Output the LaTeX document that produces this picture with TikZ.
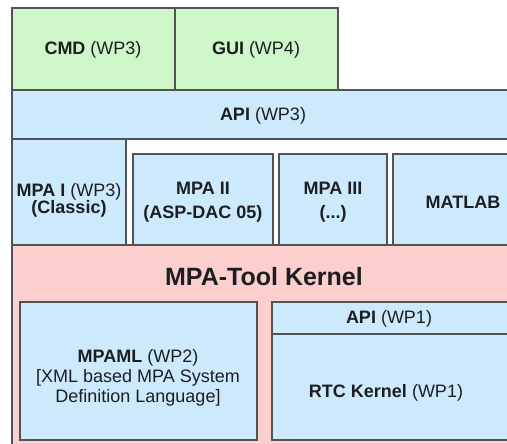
\documentclass[tikz,border=0pt]{standalone}
\usepackage{fontspec}
\setmainfont{Liberation Sans}
\definecolor{frontgreen}{RGB}{206,246,200}
\definecolor{layerblue}{RGB}{204,234,252}
\definecolor{kernelpink}{RGB}{252,206,206}
\definecolor{edgegray}{RGB}{80,84,86}
\definecolor{inktext}{RGB}{28,30,34}
\tikzset{
  box/.style={draw=edgegray, line width=1.2pt},
  greenbox/.style={box, fill=frontgreen},
  bluebox/.style={box, fill=layerblue},
  pinkbox/.style={box, fill=kernelpink},
  lbl/.style={text=inktext, align=center, inner sep=0pt, font=\fontsize{18}{20}\selectfont},
  title/.style={text=inktext, inner sep=0pt, font=\fontsize{25}{28}\selectfont\bfseries},
}
\begin{document}
\begin{tikzpicture}[x=1pt, y=-1pt]
\useasboundingbox (0,0) rectangle (507,444);
\clip (0,0) rectangle (507,444);
\fill[white] (0,0) rectangle (507,444);

% front ends
\draw[greenbox] (12,8) rectangle (175,90);
\draw[greenbox] (175,8) rectangle (338,90);
\node[lbl] (cmd) at (93,50) {\textbf{CMD} (WP3)};
\node[lbl] (gui) at (256,50) {\textbf{GUI} (WP4)};

% upper API layer
\draw[bluebox] (12,90) rectangle (518,139);
\node[lbl] (api3) at (263,116) {\textbf{API} (WP3)};

% engines
\draw[bluebox] (12,139) rectangle (126,245);
\draw[bluebox] (133,154) rectangle (273,245);
\draw[bluebox] (279,154) rectangle (387,245);
\draw[bluebox] (393,154) rectangle (534,245);
\node[lbl, font=\fontsize{18}{17}\selectfont] (mpai) at (69,200) {\textbf{MPA I} (WP3)\\\textbf{(Classic)}};
\node[lbl, font=\fontsize{18}{24}\selectfont\bfseries] (mpaii) at (203,202) {MPA II\\(ASP-DAC 05)};
\node[lbl, font=\fontsize{18}{24}\selectfont\bfseries] (mpaiii) at (333,202) {MPA III\\(...)};
\node[lbl, font=\fontsize{18}{20}\selectfont\bfseries] (matlab) at (463,202) {MATLAB};

% kernel
\draw[pinkbox] (12,245) rectangle (518,452);
\node[title] (kernel) at (264,277) {MPA-Tool Kernel};
\draw[bluebox] (20,302) rectangle (257,440);
\node[lbl] (mpaml) at (138,378) {\textbf{MPAML} (WP2)\\{}[XML based MPA System\\Definition Language]};
\draw[bluebox] (272,302) rectangle (512,440);
\draw[box] (272,334) -- (512,334);
\node[lbl] (api1) at (389,319) {\textbf{API} (WP1)};
\node[lbl] (rtc) at (386,393) {\textbf{RTC Kernel} (WP1)};
\end{tikzpicture}
\end{document}
